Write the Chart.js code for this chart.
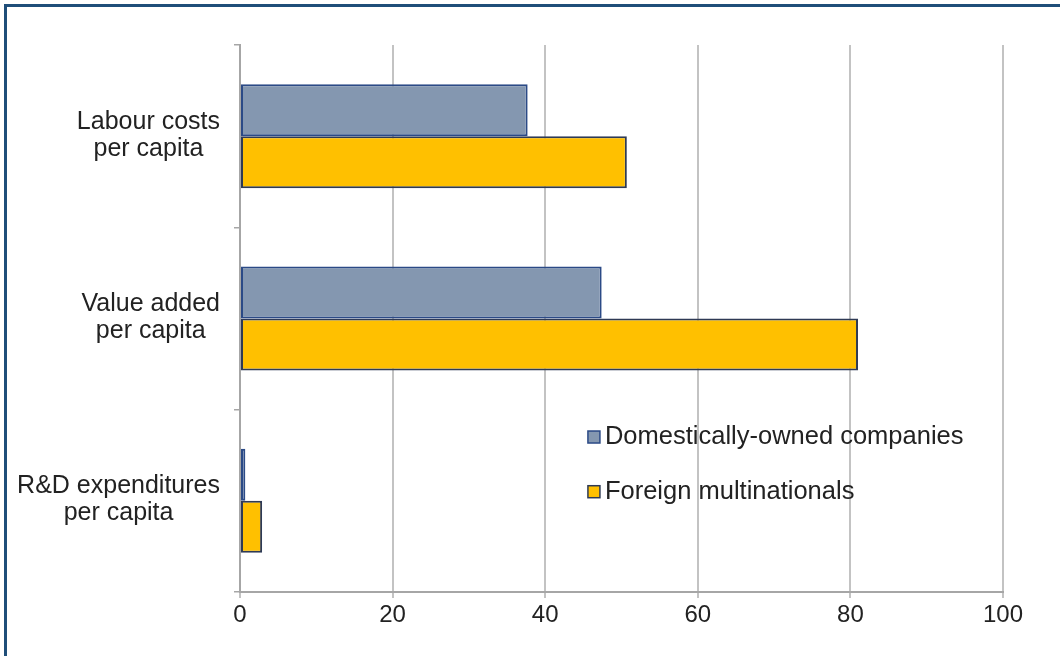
<!DOCTYPE html>
<html>
<head>
<meta charset="utf-8">
<script src="https://cdn.jsdelivr.net/npm/chart.js@4"></script>
<style>
  html, body { margin: 0; padding: 0; background: #fff; }
  #wrap { position: relative; width: 1060px; height: 656px; overflow: hidden; }
  #frame { position: absolute; left: 4px; top: 4px; width: 1100px; height: 700px;
           border-left: 3px solid #1f4e79; border-top: 3px solid #1f4e79; box-sizing: border-box; }
  canvas { position: absolute; left: 0; top: 0; }
</style>
</head>
<body>
<div id="wrap">
  <div id="frame"></div>
  <canvas id="chart" width="1060" height="656"></canvas>
</div>
<script>
// --- Data ---
const categories = [
    ['Labour costs', 'per capita'],
    ['Value added', 'per capita'],
    ['R&D expenditures', 'per capita']
];
const domestic = [37.7, 47.4, 0.7];
const foreign = [50.7, 81.0, 2.9];
const xTicks = [0, 20, 40, 60, 80, 100];

const FONT = '"Liberation Sans", Arial, Helvetica, sans-serif';

// category labels: block right-aligned, lines centred inside the block
const catLabels = {
    id: 'catLabels',
    afterDraw(chart) {
        const { ctx } = chart;
        const y = chart.scales.y;
        ctx.save();
        ctx.font = '25px ' + FONT;
        ctx.fillStyle = '#222';
        ctx.textAlign = 'center';
        ctx.textBaseline = 'middle';
        const right = y.right - 20;
        const lh = 27;
        categories.forEach((lines, i) => {
            const cy = y.getPixelForValue(i);
            const w = Math.max(...lines.map(l => ctx.measureText(l).width));
            const cx = right - w / 2;
            lines.forEach((l, j) => {
                ctx.fillText(l, cx, cy - 1 + (j - (lines.length - 1) / 2) * lh);
            });
        });
        ctx.restore();
    }
};

// legend inside the plot area
const innerLegend = {
    id: 'innerLegend',
    afterDraw(chart) {
        const { ctx } = chart;
        const x = chart.scales.x;
        const y = chart.scales.y;
        const left = x.getPixelForValue(45.6);
        const tops = [y.getPixelForValue(1.65), y.getPixelForValue(1.95)];
        ctx.save();
        ctx.font = '25.5px ' + FONT;
        ctx.textBaseline = 'middle';
        ctx.textAlign = 'left';
        chart.data.datasets.forEach((ds, i) => {
            const cy = tops[i];
            ctx.fillStyle = ds.backgroundColor;
            ctx.fillRect(left, cy - 6, 12, 12);
            ctx.strokeStyle = ds.borderColor;
            ctx.lineWidth = 1.5;
            ctx.strokeRect(left, cy - 6, 12, 12);
            ctx.fillStyle = '#222';
            ctx.fillText(ds.label, left + 17, cy);
        });
        ctx.restore();
    }
};

new Chart(document.getElementById('chart'), {
    type: 'bar',
    data: {
        labels: categories,
        datasets: [
            {
                label: 'Domestically-owned companies',
                data: domestic,
                backgroundColor: '#8497b0',
                borderColor: '#2b4a86',
                borderWidth: 2,
                borderSkipped: false,
                categoryPercentage: 0.57,
                barPercentage: 1
            },
            {
                label: 'Foreign multinationals',
                data: foreign,
                backgroundColor: '#ffc000',
                borderColor: '#2e3a55',
                borderWidth: 2,
                borderSkipped: false,
                categoryPercentage: 0.57,
                barPercentage: 1
            }
        ]
    },
    options: {
        indexAxis: 'y',
        responsive: false,
        animation: false,
        layout: { padding: { left: 0, top: 45, right: 57, bottom: 10 } },
        plugins: { legend: { display: false }, tooltip: { enabled: false } },
        scales: {
            x: {
                min: 0,
                max: 100,
                afterBuildTicks: s => { s.ticks = xTicks.map(v => ({ value: v })); },
                afterFit: s => { s.height = 54; },
                grid: { color: '#c3c3c3', lineWidth: 2, tickLength: 6, drawTicks: true },
                border: { color: '#a6a6a6', width: 2 },
                ticks: { font: { size: 24, family: FONT }, color: '#222', padding: 3 }
            },
            y: {
                afterFit: s => { s.width = 240; },
                grid: { offset: true, drawOnChartArea: false, drawTicks: true, tickLength: 6, color: '#a6a6a6', lineWidth: 1.5 },
                border: { color: '#a6a6a6', width: 2 },
                ticks: { display: false }
            }
        }
    },
    plugins: [catLabels, innerLegend]
});
</script>
</body>
</html>
